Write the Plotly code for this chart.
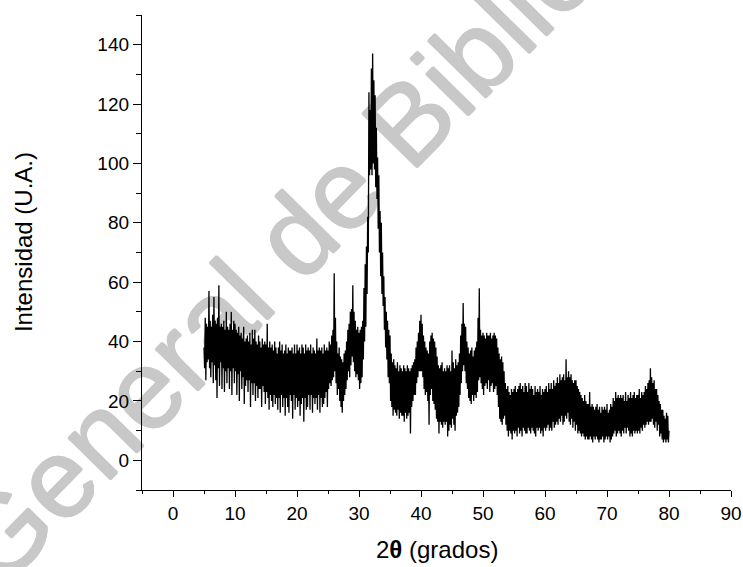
import plotly.graph_objects as go

# ---- data ----
THETA_START = 5.0   # first 2-theta sample (degrees)
THETA_STEP = 0.1    # sampling step (degrees)

# one row per degree: 5.0, 5.1, ... 5.9 ; 6.0 ... ; last value at 80.0
intensity = [
    38, 31, 48, 27, 46, 33, 45, 34, 57, 31,      # 5
    47, 28, 45, 33, 49, 26, 55, 32, 47, 27,      # 6
    46, 21, 48, 31, 59, 25, 45, 33, 46, 24,      # 7
    45, 31, 47, 23, 44, 30, 50, 26, 45, 31,      # 8
    44, 24, 46, 30, 50, 22, 44, 31, 47, 26,      # 9
    46, 30, 44, 22, 43, 29, 45, 20, 42, 30,      # 10
    43, 24, 41, 28, 45, 19, 40, 25, 41, 27,      # 11
    42, 23, 40, 27, 43, 18, 39, 26, 44, 22,      # 12
    41, 26, 44, 20, 40, 25, 39, 21, 42, 24,      # 13
    40, 24, 38, 18, 41, 25, 39, 23, 40, 19,      # 14
    39, 23, 46, 21, 38, 17, 40, 22, 38, 20,      # 15
    39, 18, 37, 22, 40, 19, 38, 21, 36, 17,      # 16
    38, 21, 40, 16, 37, 22, 39, 18, 36, 21,      # 17
    37, 15, 39, 21, 36, 18, 38, 16, 37, 22,      # 18
    37, 20, 38, 14, 36, 22, 39, 17, 36, 21,      # 19
    39, 18, 37, 20, 38, 15, 36, 19, 39, 21,      # 20
    38, 13, 36, 21, 39, 17, 37, 18, 38, 22,      # 21
    37, 17, 39, 22, 36, 16, 38, 21, 37, 19,      # 22
    36, 21, 41, 17, 37, 22, 38, 16, 37, 21,      # 23
    38, 18, 36, 19, 39, 21, 37, 23, 38, 18,      # 24
    37, 24, 40, 26, 39, 25, 42, 27, 44, 28,      # 25
    63, 30, 48, 26, 40, 22, 36, 24, 38, 20,      # 26
    35, 18, 34, 16, 33, 20, 36, 22, 37, 24,      # 27
    40, 27, 44, 30, 46, 28, 50, 32, 51, 35,      # 28
    59, 33, 50, 30, 47, 28, 44, 29, 45, 27,      # 29
    43, 24, 44, 26, 45, 28, 47, 34, 58, 40,      # 30
    66, 45, 72, 56, 82, 70, 124, 96, 118, 98,    # 31
    132, 96, 137, 100, 128, 98, 123, 92, 112, 88,  # 32
    102, 78, 96, 70, 84, 62, 80, 56, 70, 52,     # 33
    62, 44, 55, 38, 50, 34, 47, 28, 44, 26,      # 34
    42, 20, 36, 18, 33, 15, 34, 17, 32, 16,      # 35
    31, 15, 33, 17, 30, 14, 32, 16, 31, 15,      # 36
    30, 15, 32, 13, 31, 16, 30, 14, 32, 15,      # 37
    31, 16, 30, 9, 31, 18, 32, 20, 33, 22,       # 38
    34, 22, 38, 26, 40, 28, 43, 30, 47, 30,      # 39
    49, 30, 46, 28, 42, 24, 40, 22, 38, 23,      # 40
    37, 20, 36, 12, 40, 22, 42, 24, 43, 20,      # 41
    41, 19, 40, 17, 38, 14, 35, 13, 32, 9,       # 42
    31, 13, 32, 12, 33, 11, 30, 13, 31, 12,      # 43
    30, 13, 32, 8, 31, 10, 32, 12, 30, 11,       # 44
    37, 14, 33, 12, 31, 10, 34, 15, 32, 16,      # 45
    33, 18, 36, 22, 42, 26, 46, 30, 53, 32,      # 46
    46, 30, 45, 26, 40, 24, 38, 21, 36, 20,      # 47
    37, 19, 38, 22, 35, 20, 37, 22, 38, 21,      # 48
    40, 23, 48, 27, 58, 28, 44, 26, 42, 24,      # 49
    43, 22, 42, 25, 41, 26, 43, 24, 42, 27,      # 50
    42, 23, 43, 25, 41, 26, 42, 23, 43, 24,      # 51
    42, 25, 41, 22, 38, 18, 36, 14, 34, 13,      # 52
    35, 12, 33, 14, 30, 15, 26, 12, 24, 10,      # 53
    25, 8, 23, 10, 22, 9, 24, 7, 23, 10,         # 54
    24, 9, 25, 10, 23, 8, 24, 11, 25, 9,         # 55
    26, 10, 24, 8, 25, 11, 23, 10, 26, 9,        # 56
    25, 9, 23, 11, 26, 10, 24, 9, 25, 11,        # 57
    24, 10, 22, 9, 25, 8, 23, 11, 24, 10,        # 58
    23, 11, 25, 9, 22, 10, 24, 8, 23, 11,        # 59
    24, 10, 25, 11, 23, 12, 26, 10, 24, 11,      # 60
    26, 10, 24, 13, 27, 11, 25, 12, 26, 13,      # 61
    28, 12, 26, 14, 29, 13, 27, 15, 28, 12,      # 62
    29, 13, 27, 15, 34, 14, 28, 16, 30, 13,      # 63
    28, 12, 29, 14, 27, 11, 26, 13, 27, 10,      # 64
    27, 12, 25, 9, 24, 10, 23, 9, 22, 8,         # 65
    21, 9, 20, 8, 22, 7, 20, 8, 19, 7,           # 66
    19, 7, 23, 8, 18, 7, 19, 6, 18, 8,           # 67
    17, 7, 18, 8, 19, 7, 17, 6, 18, 7,           # 68
    16, 7, 18, 8, 17, 6, 18, 7, 17, 8,           # 69
    19, 7, 16, 8, 17, 6, 19, 7, 18, 8,           # 70
    21, 9, 20, 10, 23, 8, 21, 9, 22, 10,         # 71
    21, 9, 22, 8, 21, 10, 22, 9, 20, 11,         # 72
    23, 9, 20, 11, 22, 10, 21, 8, 23, 9,         # 73
    21, 8, 22, 10, 23, 9, 21, 10, 22, 9,         # 74
    22, 10, 24, 9, 21, 11, 23, 10, 22, 12,       # 75
    23, 11, 25, 12, 24, 13, 26, 12, 27, 13,      # 76
    31, 13, 28, 14, 26, 12, 27, 11, 24, 13,      # 77
    24, 10, 22, 12, 20, 8, 19, 9, 17, 7,         # 78
    17, 6, 15, 7, 14, 6, 16, 7, 15, 6,           # 79
    10,                                          # 80
]

two_theta = [round(THETA_START + THETA_STEP * i, 2) for i in range(len(intensity))]

x_ticks = [0, 10, 20, 30, 40, 50, 60, 70, 80, 90]
y_ticks = [0, 20, 40, 60, 80, 100, 120, 140]

x_title = "2<b>θ</b> (grados)"
y_title = "Intensidad (U.A.)"
watermark = "General de Bibliotecas"

# ---- figure ----
FONT = "Liberation Sans, Arial, sans-serif"

fig = go.Figure()
fig.add_trace(go.Scatter(
    x=two_theta, y=intensity, mode="lines",
    line=dict(color="black", width=1.3),
    hoverinfo="skip", showlegend=False,
))

axis_common = dict(
    showline=True, linecolor="black", linewidth=1.3,
    ticks="outside", tickcolor="black", tickwidth=1.3,
    showgrid=False, zeroline=False, mirror=False, automargin=False,
    tickfont=dict(family=FONT, size=19, color="black"),
)

fig.update_xaxes(
    range=[-5, 90], tickvals=x_ticks, ticklen=6,
    minor=dict(dtick=5, tick0=0, ticks="outside", ticklen=3,
               tickcolor="black", tickwidth=1.3),
    **axis_common,
)
fig.update_yaxes(
    range=[-10, 150], tickvals=y_ticks, ticklen=8,
    minor=dict(dtick=10, tick0=0, ticks="outside", ticklen=5,
               tickcolor="black", tickwidth=1.3),
    **axis_common,
)

fig.add_annotation(
    text=x_title, xref="paper", yref="paper", x=0.5, y=-0.126,
    xanchor="center", yanchor="middle", showarrow=False,
    font=dict(family=FONT, size=24, color="black"),
)
fig.add_annotation(
    text=y_title, xref="paper", yref="paper", x=-0.202, y=0.522,
    xanchor="center", yanchor="middle", showarrow=False, textangle=-90,
    font=dict(family=FONT, size=24, color="black"),
)

# watermark, drawn beneath the data
WM = "#c8c8c8"
fig.add_shape(
    type="line", xref="paper", yref="paper",
    x0=0.0136, y0=0.2547, x1=0.7267, y1=1.1558,
    line=dict(width=0, color="rgba(0,0,0,0)"), layer="below",
    label=dict(text=watermark, textposition="middle", textangle=-45.5,
               xanchor="center", yanchor="middle",
               font=dict(family=FONT, size=112, color=WM,
                         shadow=("1px 0 0 %s, -1px 0 0 %s, 0 1px 0 %s, 0 -1px 0 %s")
                         % ((WM,) * 4))),
)

fig.update_layout(
    width=743, height=567,
    margin=dict(l=142, r=12, t=15, b=77),
    paper_bgcolor="white", plot_bgcolor="white",
)

fig.write_html("out.html")
